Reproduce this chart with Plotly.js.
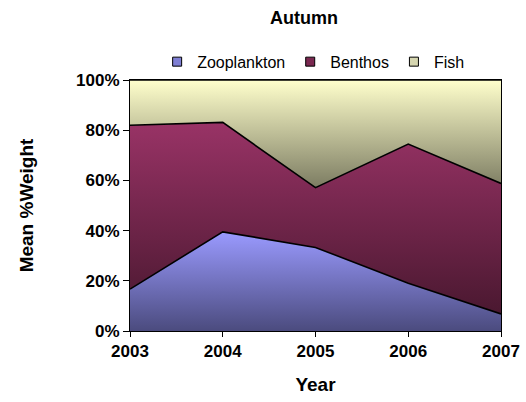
<!DOCTYPE html>
<html>
<head>
<meta charset="utf-8">
<script src="https://cdn.plot.ly/plotly-3.0.1.min.js"></script>
<style>html,body{margin:0;padding:0;background:#fff;}#chart{width:526px;height:402px;}</style>
</head>
<body>
<div id="chart"></div>
<script>
const years = ['2003', '2004', '2005', '2006', '2007'];
const zooplankton = [16.7, 39.5, 33.3, 19.0, 6.8];
const benthos = [65.3, 43.6, 23.8, 55.5, 52.0];
const fish = [18.0, 16.9, 42.9, 25.5, 41.2];
const seriesNames = ['Zooplankton', 'Benthos', 'Fish'];
const yTicks = [0, 20, 40, 60, 80, 100];
const yTickText = ['0%', '20%', '40%', '60%', '80%', '100%'];

const FF = 'Liberation Sans, Arial, sans-serif';

function cum(arrs) {
  return years.map((_, i) => arrs.reduce((s, a) => s + a[i], 0));
}
const zooTop = cum([zooplankton]);
const benTop = cum([zooplankton, benthos]);

const gradients = [
  {start: 0, stop: Math.max(...zooTop), colorscale: [[0, '#4b4b7e'], [1, '#9a9aff']]},
  {start: Math.min(...zooTop), stop: Math.max(...benTop), colorscale: [[0, '#4a1830'], [1, '#993366']]},
  {start: Math.min(...benTop), stop: 100, colorscale: [[0, '#7c7c62'], [1, '#ffffcc']]}
];
const legendColors = ['#7f7fd4', '#7a2850', '#d6d6b0'];
const values = [zooplankton, benthos, fish];

const traces = [];
values.forEach((v, i) => {
  traces.push({
    name: seriesNames[i], x: years, y: v, type: 'scatter', mode: 'lines',
    stackgroup: 'one', line: {color: '#000', width: 1.6},
    fillcolor: legendColors[i], showlegend: false, hoverinfo: 'skip',
    fillgradient: Object.assign({type: 'vertical'}, gradients[i])
  });
});
values.forEach((v, i) => {
  traces.push({
    name: seriesNames[i], x: [null], y: [null], type: 'scatter', mode: 'markers',
    marker: {symbol: 'square', size: 9, color: legendColors[i], line: {color: '#000', width: 1}},
    showlegend: true
  });
});

const layout = {
  width: 526, height: 402,
  margin: {l: 130, r: 25, t: 80, b: 71},
  paper_bgcolor: '#fff', plot_bgcolor: '#fff',
  font: {family: FF, color: '#000'},
  showlegend: true,
  title: {text: '<b>Autumn</b>', font: {family: FF, size: 18, color: '#000'},
    x: 0.578, xanchor: 'center', y: 0.957, yanchor: 'middle'},
  legend: {orientation: 'h', x: 0.495, xanchor: 'center', y: 1.005, yanchor: 'bottom',
    font: {family: FF, size: 16, color: '#000'}, traceorder: 'normal',
    itemwidth: 30, tracegroupgap: 0, bgcolor: 'rgba(0,0,0,0)'},
  xaxis: {
    type: 'category', range: [0, 4],
    showline: true, linecolor: '#000', linewidth: 1, mirror: true,
    ticks: 'outside', ticklen: 5, tickcolor: '#000', showgrid: false, zeroline: false,
    tickfont: {family: FF, size: 17, color: '#000', weight: 'bold'},
    title: {text: '<b>Year</b>', font: {family: FF, size: 19, color: '#000'}, standoff: 17}
  },
  yaxis: {
    range: [0, 100], tickvals: yTicks, ticktext: yTickText,
    showline: true, linecolor: '#000', linewidth: 1, mirror: true,
    ticks: 'outside', ticklen: 6, tickcolor: '#000', showgrid: false, zeroline: false,
    tickfont: {family: FF, size: 17, color: '#000', weight: 'bold'},
    title: {text: '<b>Mean %Weight</b>', font: {family: FF, size: 19, color: '#000'}, standoff: 37}
  }
};

Plotly.newPlot('chart', traces, layout, {displayModeBar: false, staticPlot: true});
</script>
</body>
</html>
